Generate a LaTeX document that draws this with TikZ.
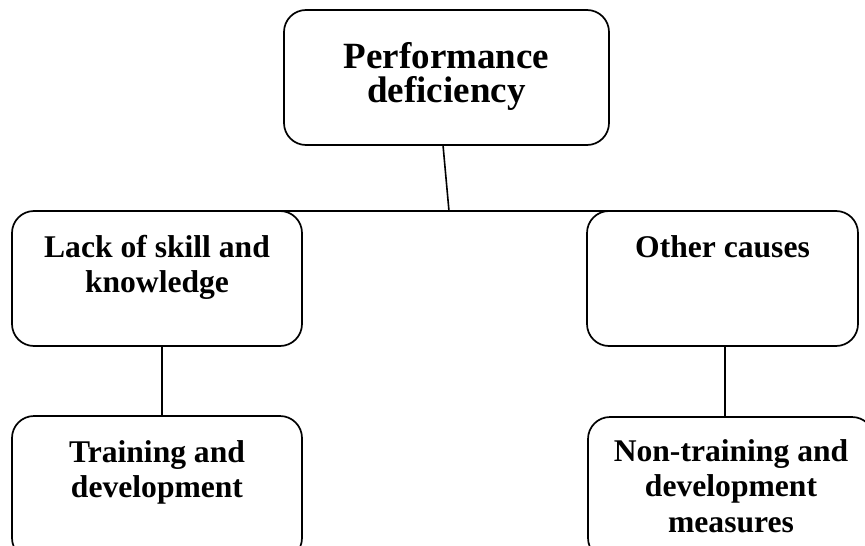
\documentclass[tikz,border=0pt]{standalone}
\usepackage{fontspec}
\setmainfont{Liberation Serif}
\begin{document}
\begin{tikzpicture}[x=1pt,y=-1pt,
  box/.style={draw, line width=1.7pt, rounded corners=22pt, inner sep=0pt, outer sep=0pt},
  conn/.style={line width=1.6pt},
  big/.style={font=\bfseries\fontsize{37}{34}\selectfont, align=center, inner sep=0pt, anchor=north},
  lbl/.style={font=\bfseries\fontsize{31.6}{35.5}\selectfont, align=center, inner sep=0pt, anchor=north}]
\useasboundingbox (0,0) rectangle (865,546);
\clip (0,0) rectangle (865,546);
% boxes
\node[box, minimum width=325pt, minimum height=135pt] (top) at (446.5,77.5) {};
\node[box, minimum width=290pt, minimum height=135pt] (lk) at (157,278.5) {};
\node[box, minimum width=271pt, minimum height=135pt] (oc) at (722.5,278.5) {};
\node[box, minimum width=290pt, minimum height=144pt] (td) at (157,488) {};
\node[box, minimum width=286pt, minimum height=143pt] (nt) at (731,488.5) {};
% texts
\node[big] (toptext) at (446.5,40) {\rule{0pt}{28pt}Performance\\deficiency};
\node[lbl] (lktext) at (157,231) {\rule{0pt}{26pt}Lack of skill and\\knowledge};
\node[lbl] (octext) at (722.5,231) {\rule{0pt}{26pt}Other causes};
\node[lbl] (tdtext) at (157,436) {\rule{0pt}{26pt}Training and\\development};
\node[lbl] (nttext) at (731,435) {\rule{0pt}{26pt}Non-training and\\development\\measures};
% connectors
\coordinate (j) at (449,211);
\draw[conn] ([xshift=-3.5pt]top.south) -- (j);
\draw[conn] (lk.north) -- (oc.north);
\draw[conn] ([xshift=5pt]lk.south) -- ([xshift=5pt]td.north);
\draw[conn] ([xshift=2.5pt]oc.south) -- ([xshift=-6pt]nt.north);
\end{tikzpicture}
\end{document}
